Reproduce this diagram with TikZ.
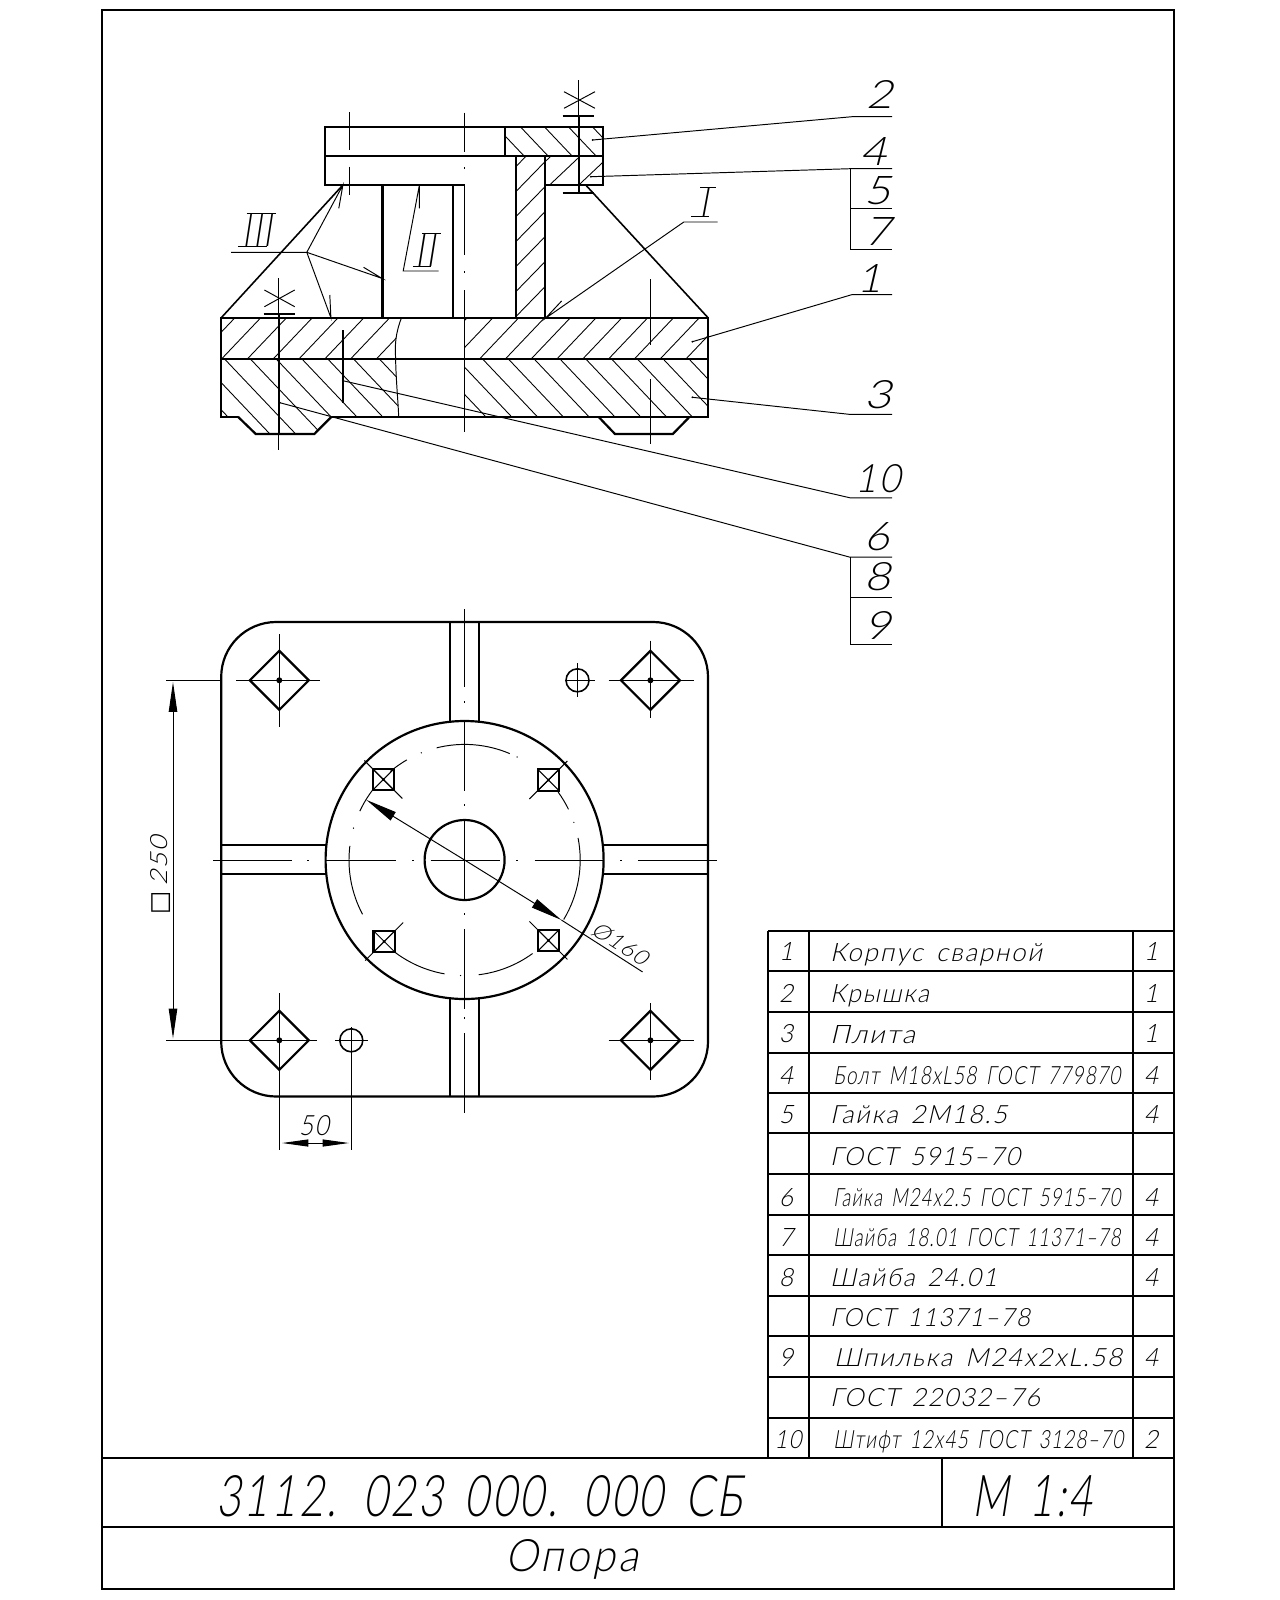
\documentclass[tikz,border=0pt]{standalone}
\usepackage{fontspec}
\usepackage{graphicx}
\usetikzlibrary{arrows.meta}
\newfontfamily\cadfont[FakeSlant=0.22,LetterSpace=7,WordSpace=1.5]{Lato Light}
\newfontfamily\cadsym{DejaVu Sans}
\newlength\pxu
\setlength\pxu{0.02cm}
% text squeezed to a given width and height, in pixels of the sheet
\newcommand{\cadfit}[3]{\resizebox{#1\pxu}{#2\pxu}{\cadfont #3}}
\tikzset{
  mainline/.style={line width=1.25pt},
  thinline/.style={line width=0.55pt},
  hatchline/.style={line width=0.5pt},
  lbl/.style={inner sep=0pt,anchor=base west},
  numlbl/.style={inner sep=0pt,anchor=base},
  dimtip/.style={{Triangle[length=17pt,width=4.8pt]}-{Triangle[length=17pt,width=4.8pt]}},
  shorttip/.style={{Triangle[length=15pt,width=4pt]}-{Triangle[length=15pt,width=4pt]}},
  onetip/.style={-{Triangle[length=18pt,width=5.5pt]}},
}
\begin{document}
\begin{tikzpicture}[x=0.02cm,y=-0.02cm]
  \useasboundingbox (0,0) rectangle (1280,1600);

  % sheet frame and title block
  \draw[mainline] (102,10) rectangle (1173.7,1589.3);
  \draw[mainline] (102,1457.7) -- (1173.7,1457.7);
  \draw[mainline] (102,1526.7) -- (1173.7,1526.7);
  \draw[mainline] (942,1457.7) -- (942,1526.7);
  \node[lbl] (titlecode) at (216,1516) {\cadfit{526}{41}{3112. 023 000. 000 СБ}};
  \node[lbl] (titlescale) at (972,1516.7) {\cadfit{120}{41}{М 1:4}};
  \node[lbl] (titlename) at (505,1571) {\cadfit{133}{32}{Опора}};

  % parts list
  \draw[mainline] (768.3,931) -- (1173.7,931);
  \foreach \y in {971,1011.7,1052.7,1092.7,1133.3,1174,1215,1255,1295.7,1336,1376.7,1417.7}
    {
      \draw[mainline] (768.3,\y) -- (1173.7,\y);
    }
  \draw[mainline] (768.3,931) -- (768.3,1457.7);
  \draw[mainline] (809,931) -- (809,1457.7);
  \draw[mainline] (1132.7,931) -- (1132.7,1457.7);
  \foreach \i/\x/\y/\w/\t in {
      1/829.7/961.7/212/{Корпус  сварной},
      2/829.7/1002.7/99/{Крышка},
      3/829.7/1043.7/85/{Плита},
      4/833/1084/287/{Болт M18xL58  ГОСТ 779870},
      5/829.7/1123.3/177/{Гайка  2M18.5},
      5b/829.7/1165/190/{ГОСТ  5915–70},
      6/833/1206.7/287/{Гайка M24x2.5  ГОСТ 5915–70},
      7/833/1246.7/287/{Шайба 18.01  ГОСТ 11371–78},
      8/829.7/1286/167/{Шайба  24.01},
      8b/829.7/1326/200/{ГОСТ  11371–78},
      9/833.7/1366.7/288/{Шпилька  M24x2xL.58},
      9b/829.7/1406.7/210/{ГОСТ  22032–76},
      10/833/1448/290/{Штифт 12x45  ГОСТ 3128–70}}
    {
      \node[lbl] (row\i) at (\x,\y) {\cadfit{\w}{18}{\t}};
    }
  \foreach \i/\y/\q in {1/960.7/1,2/1002.7/1,3/1042.7/1,4/1084/4,5/1123.3/4,6/1206.7/4,7/1246.7/4,8/1286/4,9/1366.7/4}
    {
      \node[numlbl] (num\i) at (786,\y) {\cadfit{14}{18}{\i}};
      \node[numlbl] (qty\i) at (1151,\y) {\cadfit{14}{18}{\q}};
    }
  \node[numlbl] (num10) at (788,1448) {\cadfit{27}{18}{10}};
  \node[numlbl] (qty10) at (1151,1448) {\cadfit{14}{18}{2}};

  % section: hatching first
  \begin{scope}
    \clip (221,317.7) -- (401.5,317.7) .. controls (395,335) and (395,345) .. (395.6,358.7) -- (221,358.7) -- cycle
      (464.5,317.7) rectangle (708,358.7);
    \foreach \k in {0,1,...,20}
      {
        \draw[hatchline] ({196+25.8*\k},358.7) -- +(39,-41);
      }
  \end{scope}
  \begin{scope}
    \clip (221,358.7) -- (395.6,358.7) .. controls (396,380) and (398,400) .. (398.7,416.7) -- (331.5,416.7) -- (314.3,434) -- (255.8,434) -- (237.9,416.7) -- (221,416.7) -- cycle
      (464.5,358.7) rectangle (708,416.7);
    \foreach \k in {-2,-1,...,20}
      {
        \draw[hatchline] ({224.3+25.8*\k},358.7) -- +(74,78);
      }
  \end{scope}
  \begin{scope}
    \clip (504.8,126.7) rectangle (602.9,155.7);
    \foreach \k in {0,1,...,4}
      {
        \draw[hatchline] ({496.3+24*\k},126.7) -- +(27.5,29);
      }
  \end{scope}
  \begin{scope}
    \clip (545,155.7) rectangle (602.9,185);
    \foreach \k in {0,1,2}
      {
        \draw[hatchline] ({520.4+29.2*\k},185) -- +(31,-29.3);
      }
  \end{scope}
  \begin{scope}
    \clip (515.8,155.7) rectangle (545,317.7);
    \foreach \k in {-1,0,...,5}
      {
        \draw[hatchline] (515.8,{191.7+25*\k}) -- +(29.2,-30);
      }
  \end{scope}

  % section: outlines
  \draw[mainline] (464.5,185) -- (324.7,185) -- (324.7,126.7) -- (602.9,126.7) -- (602.9,185) -- (545,185);
  \draw[mainline] (324.7,155.7) -- (602.9,155.7);
  \draw[mainline] (504.8,126.7) -- (504.8,155.7);
  \draw[mainline] (382.5,185) -- (382.5,317.7);
  \draw[mainline] (453.1,185) -- (453.1,317.7);
  \draw[mainline] (515.8,155.7) -- (515.8,317.7);
  \draw[mainline] (545,155.7) -- (545,317.7);
  \draw[line width=0.9pt] (342.9,185) -- (221.3,317.7);
  \draw[line width=0.9pt] (585.7,185) -- (708,317.7);
  \draw[mainline] (237.9,416.7) -- (221.3,416.7) -- (221.3,317.7) -- (708,317.7) -- (708,416.7) -- (331.5,416.7);
  \draw[mainline] (221.3,358.7) -- (708,358.7);
  \draw[mainline] (237.9,416.7) -- (255.8,434) -- (314.3,434) -- (331.5,416.7);
  \draw[mainline] (598.4,416.7) -- (615,434) -- (672.8,434) -- (689.7,416.7);
  \draw[thinline] (401.5,317.7) .. controls (395,335) and (395,345) .. (395.6,358.7) .. controls (396,380) and (398,400) .. (398.7,416.7);

  % section: axes
  \draw[thinline] (464.5,112.7) -- (464.5,151.7);
  \draw[thinline] (464.5,167) -- (464.5,169);
  \draw[thinline] (464.5,185) -- (464.5,255);
  \draw[thinline] (464.5,271) -- (464.5,273);
  \draw[thinline] (464.5,290) -- (464.5,431.7);
  \draw[thinline] (349.5,112.3) -- (349.5,150);
  \draw[thinline] (349.5,166.7) -- (349.5,195);
  \draw[thinline] (650.4,279.3) -- (650.4,345);
  \draw[thinline] (650.4,379) -- (650.4,444);

  % bolts and pin
  \draw[thinline] (578.8,80) -- (578.8,193.3);
  \draw[thinline] (564,91.7) -- (595,108.3);
  \draw[thinline] (595,91.7) -- (564,108.3);
  \draw[line width=0.9pt] (578.8,115.7) -- (578.8,192.7);
  \draw[mainline] (562.6,115.7) -- (593.6,115.7);
  \draw[mainline] (562.6,192.7) -- (593.6,192.7);
  \draw[thinline] (278.9,278.3) -- (278.9,450);
  \draw[thinline] (264.4,290) -- (294.7,306.7);
  \draw[thinline] (294.7,290) -- (264.4,306.7);
  \draw[mainline] (263.7,313.7) -- (294.7,313.7);
  \draw[mainline] (278.9,313.7) -- (278.9,434);
  \draw[mainline] (342.9,330) -- (342.9,403.3);

  % leaders of the part numbers
  \foreach \n/\xa/\ya/\xb/\yb in {
      two/592.6/140/852/116.7,
      four/590.9/176.7/850/168.7,
      one/692.4/341.7/852/294.6,
      three/692.4/397.3/850/414.4,
      ten/342.9/380.7/850/497.8,
      six/279.9/402.7/850/557.2}
    {
      \coordinate (p\n) at (\xa,\ya);
      \coordinate (q\n) at (\xb,\yb);
      \coordinate (r\n) at (892,\yb);
      \draw[thinline] (p\n) -- (q\n) -- (r\n);
      \fill (p\n) circle (1);
    }
  \draw[thinline] (qfour) -- (850,249.1) -- (892,249.1);
  \draw[thinline] (850,208.9) -- (892,208.9);
  \draw[thinline] (qsix) -- (850,644) -- (892,644);
  \draw[thinline] (850,597.4) -- (892,597.4);
  \node[lbl] (lbltwo) at (866,108.3) {\cadfit{26}{28}{2}};
  \node[lbl] (lblfour) at (860,165.7) {\cadfit{26}{28}{4}};
  \node[lbl] (lblfive) at (864,204) {\cadfit{26}{28}{5}};
  \node[lbl] (lblseven) at (864,245.3) {\cadfit{26}{28}{7}};
  \node[lbl] (lblone) at (857,292) {\cadfit{24}{28}{1}};
  \node[lbl] (lblthree) at (864,408.7) {\cadfit{27}{28}{3}};
  \node[lbl] (lblten) at (855,492.1) {\cadfit{45}{28}{10}};
  \node[lbl] (lblsix) at (864,550.3) {\cadfit{25}{28}{6}};
  \node[lbl] (lbleight) at (864,590.5) {\cadfit{26}{28}{8}};
  \node[lbl] (lblnine) at (864,639.5) {\cadfit{26}{28}{9}};

  % weld marks
  \coordinate (wI) at (683.8,222);
  \coordinate (wII) at (403.2,271);
  \coordinate (wIII) at (306.8,252.3);
  \draw[thinline] (717.6,222) -- (wI) -- (545.4,318.3) -- (561.6,301);
  \draw[thinline] (438.7,271) -- (wII) -- (419.4,185) -- (419.4,208.3);
  \draw[thinline] (231,252.3) -- (wIII) -- (342.9,185) -- (338.8,208.3);
  \draw[thinline] (wIII) -- (381.8,278.3) -- (363.6,267.3);
  \draw[thinline] (wIII) -- (330.9,317.7) -- (329.8,295);
  \draw[thinline] (700,187.3) -- (715.5,187.3);
  \draw[thinline] (691.4,216) -- (708.6,216);
  \draw[thinline] (422.1,233.3) -- (441,233.3);
  \draw[thinline] (412.8,266.7) -- (431.4,266.7);
  \draw[thinline] (246.5,213.3) -- (275.8,213.3);
  \draw[thinline] (237.9,246.7) -- (267.2,246.7);
  \node[lbl] (markI) at (699,216) {\cadfit{9}{29}{I}};
  \node[lbl] (markII) at (415,266.7) {\cadfit{20}{33}{II}};
  \node[lbl] (markIII) at (242,246.7) {\cadfit{30}{33}{III}};

  % plan: ribs and plate
  \draw[mainline,rounded corners=1.1cm] (221.2,622) rectangle (708,1096.5);
  \draw[mainline] (449.6,622) -- (449.6,1096.5);
  \draw[mainline] (479.1,622) -- (479.1,1096.5);
  \draw[mainline] (221.2,845) -- (708,845);
  \draw[mainline] (221.2,874.2) -- (708,874.2);
  \draw[mainline,fill=white] (464.6,860) circle (139);
  \draw[mainline] (464.6,860) circle (40);

  % plan: centre lines
  \foreach \a/\b in {609/687,701/703,722/790.5,804/806,820/899.7,913/915,929.3/1009,1017/1019,1033/1112.5}
    {
      \draw[thinline] (464.6,\a) -- (464.6,\b);
    }
  \foreach \a/\b in {213.1/291.6,307/309,326/396,412/414,430.5/500.2,516/518,534.6/603,620/622,637.9/717.3}
    {
      \draw[thinline] (\a,860) -- (\b,860);
    }

  % plan: pitch circle
  \begin{scope}[shift={(464.6,860)},yscale=-1]
    \foreach \a/\b in {67/104,120/130,142/155,173/208,233/260,277/306,329/371,26/36}
      {
        \draw[thinline] (\a:115.6) arc[start angle=\a,end angle=\b,radius=115.6];
      }
    \foreach \a in {112,63,164,268,19}
      {
        \fill (\a:115.6) circle (0.7);
      }
  \end{scope}

  % plan: the four square holes
  \foreach \cx/\cy/\sx/\sy in {
      383.4/779.5/1/1,
      548.4/780/-1/1,
      384.2/941.5/-1/1,
      548.4/940.4/1/1}
    {
      \draw[mainline] (\cx-10.8,\cy-10.8) rectangle (\cx+10.8,\cy+10.8);
      \draw[thinline] (\cx-10.8,\cy-10.8*\sx*\sy) -- (\cx+10.8,\cy+10.8*\sx*\sy);
      \draw[thinline] (\cx-10.8,\cy+10.8*\sx*\sy) -- (\cx+10.8,\cy-10.8*\sx*\sy);
      \draw[thinline] (\cx-19,\cy-19*\sx*\sy) -- (\cx+19,\cy+19*\sx*\sy);
      \fill (\cx,\cy) circle (1.5);
    }

  % plan: diamonds
  \foreach \cx/\cy/\xa/\xb/\ya/\yb in {
      279.3/680.3/236/320/634/726.5,
      650.4/680.3/608.5/694/640.7/717.7,
      279.3/1040.3/166/316.5/993/1149.5,
      650.4/1040.3/608.5/694/1003/1080}
    {
      \draw[mainline] (\cx-29.5,\cy) -- (\cx,\cy-29.5) -- (\cx+29.5,\cy) -- (\cx,\cy+29.5) -- cycle;
      \draw[thinline] (\xa,\cy) -- (\xb,\cy);
      \draw[thinline] (\cx,\ya) -- (\cx,\yb);
      \fill (\cx,\cy) circle (3);
    }

  % plan: pin holes
  \draw[line width=0.9pt] (577.5,680.3) circle (11.5);
  \draw[thinline] (565,680.3) -- (594.7,680.3);
  \draw[thinline] (577.5,663) -- (577.5,697);
  \draw[line width=0.9pt] (351.3,1040.3) circle (11.5);
  \draw[thinline] (335,1040.3) -- (368,1040.3);
  \draw[thinline] (351.3,1027) -- (351.3,1149.5);

  % dimensions
  \coordinate (dimtop) at (173,682);
  \coordinate (dimbot) at (173,1038.5);
  \draw[thinline] (166,680.3) -- (221.2,680.3);
  \draw[thinline,dimtip] (dimtop) -- (dimbot);
  \node[rotate=90,inner sep=0pt] (dimside) at (160.7,875) {{\cadsym\fontsize{14}{14}\selectfont □}\hspace{3pt}\cadfit{50}{17}{250}};
  \coordinate (dimleft) at (282,1143);
  \coordinate (dimright) at (349,1143);
  \draw[thinline,shorttip] (dimleft) -- (dimright);
  \node[numlbl] (dimfifty) at (314,1135) {\cadfit{30}{20}{50}};
  \coordinate (diaa) at (366.2,799.8);
  \coordinate (diab) at (561.4,920);
  \coordinate (diac) at (642.5,971.9);
  \draw[thinline] (diab) -- (diac);
  \draw[thinline,onetip] (464.6,860) -- (diaa);
  \draw[thinline,onetip] (464.6,860) -- (diab);
  \node[rotate=-33,inner sep=0pt] (diatext) at (620,944) {\cadfit{62}{16}{Ø160}};
\end{tikzpicture}
\end{document}
